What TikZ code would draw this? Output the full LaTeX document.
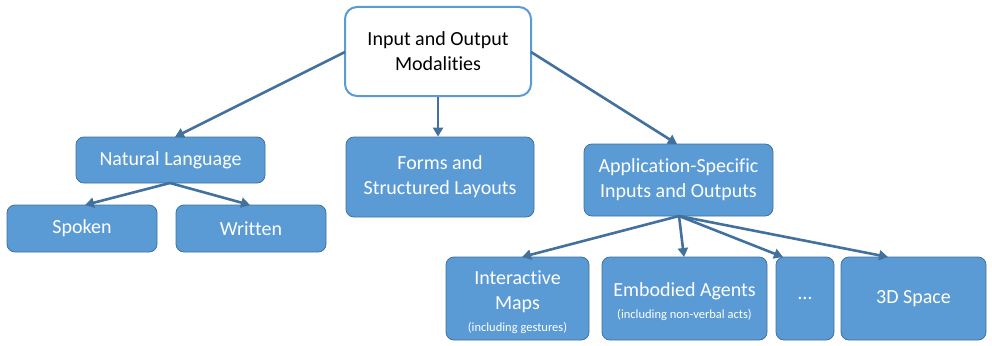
\documentclass[tikz,border=0pt]{standalone}
\usepackage{fontspec}
\setmainfont[Ligatures={NoCommon}]{Carlito}
\usetikzlibrary{arrows.meta}
\definecolor{boxfill}{HTML}{5B9BD5}
\definecolor{boxline}{HTML}{41719C}
\definecolor{arrowc}{HTML}{41719C}
\newcommand{\smalltxt}{\fontsize{12.5}{14}\selectfont}
\newcommand{\topstrut}{\rule{0pt}{21pt}}
\begin{document}
\begin{tikzpicture}[x=1pt,y=-1pt,
  bx/.style={draw=boxline, line width=0.8pt, fill=boxfill, rounded corners=8pt, text=white,
    font=\fontsize{20}{25}\selectfont, align=center, inner sep=0pt},
  rootbx/.style={draw=boxfill, line width=2pt, fill=white, rounded corners=12pt, text=black,
    font=\fontsize{20}{25}\selectfont, align=center, inner sep=0pt},
  arr/.style={draw=arrowc, line width=2.6pt, -{Triangle[length=9pt,width=10pt]}}
]
\useasboundingbox (0,0) rectangle (992,345);
\node[rootbx, minimum width=186pt, minimum height=89pt] (root) at (438,51.5) {Input and Output\\Modalities};
\node[bx, minimum width=189pt, minimum height=46pt] (nl) at (170.5,160) {Natural Language};
\node[bx, minimum width=150pt, minimum height=47pt] (sp) at (82,228.5) {Spoken};
\node[bx, minimum width=150pt, minimum height=47pt] (wr) at (251,228.5) {Written};
\node[bx, minimum width=188pt, minimum height=80pt] (forms) at (440,177) {Forms and\\Structured Layouts};
\node[bx, minimum width=189pt, minimum height=72pt] (app) at (678.5,180) {Application-Specific\\Inputs and Outputs};
\node[bx, minimum width=143pt, minimum height=83pt] (maps) at (517.5,298.5) {\topstrut Interactive\\Maps\\[-3pt]{\smalltxt (including gestures)}};
\node[bx, minimum width=165pt, minimum height=83pt] (emb) at (684.5,298.5) {\topstrut Embodied Agents\\[-3pt]{\smalltxt (including non-verbal acts)}};
\node[bx, minimum width=58pt, minimum height=83pt] (dots) at (805,298.5) {\dots};
\node[bx, minimum width=145pt, minimum height=83pt] (sd) at (913.5,298.5) {3D Space};
\coordinate (rootL) at (345,52);
\coordinate (rootR) at (531,52);
\coordinate (nlT) at (175,137);
\coordinate (appT) at (677,144);
\coordinate (nlB) at (170,183);
\coordinate (appB) at (679,216);
\draw[arr] (rootL) -- (nlT);
\draw[arr] (root.south) -- (root.south |- forms.north);
\draw[arr] (rootR) -- (appT);
\draw[arr] (nlB) -- (85,205);
\draw[arr] (nlB) -- (250,205);
\draw[arr] (appB) -- (522,257);
\draw[arr] (appB) -- (684,257);
\draw[arr] (appB) -- (783,257);
\draw[arr] (appB) -- (888,257);
\end{tikzpicture}
\end{document}
